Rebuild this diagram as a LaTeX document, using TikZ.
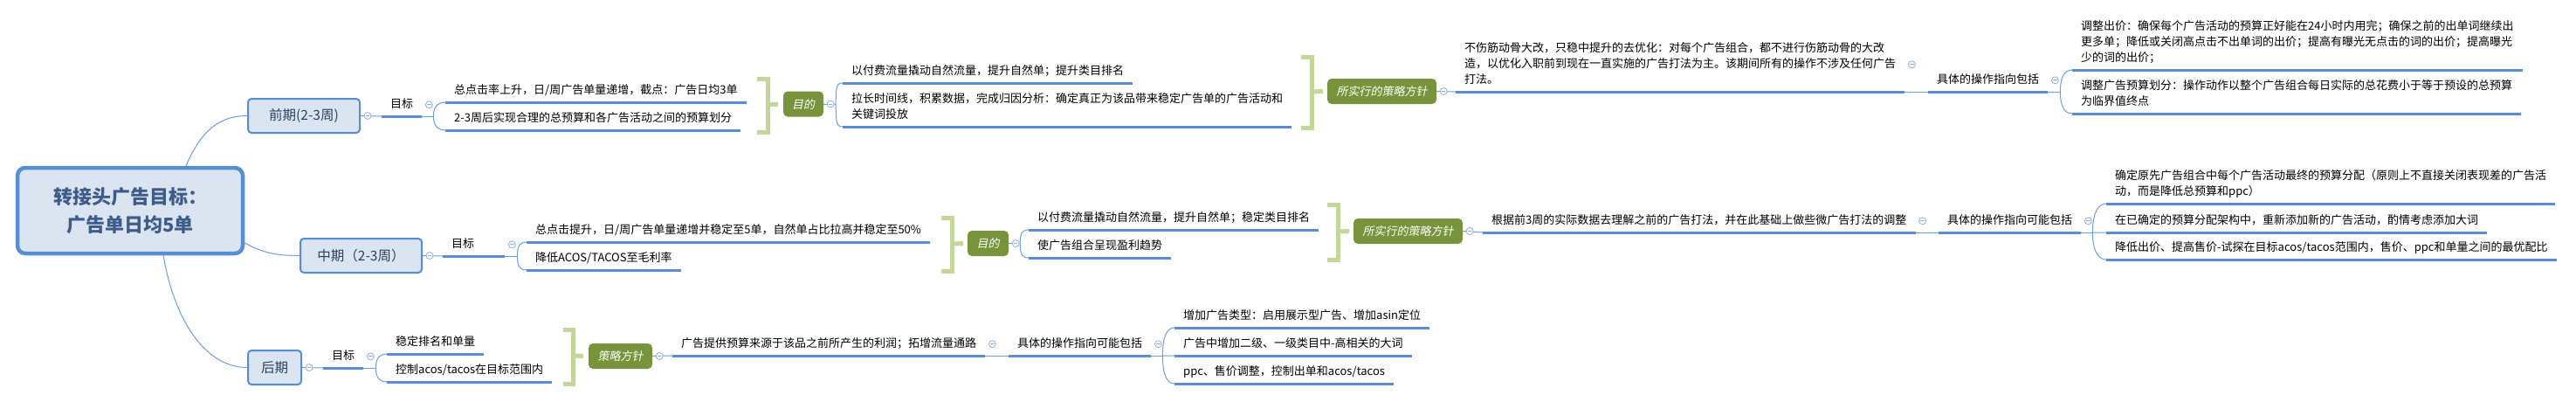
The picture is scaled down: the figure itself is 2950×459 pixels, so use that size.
\documentclass[tikz,border=0pt]{standalone}
\usepackage{fontspec}
\setmainfont{Noto Sans CJK SC}
\newfontfamily\tagfont[FakeSlant=0.2]{Noto Sans CJK SC}
\usetikzlibrary{calc}
\definecolor{rootfill}{HTML}{DBE5F1}
\definecolor{rootline}{HTML}{558ED5}
\definecolor{roottext}{HTML}{3D5C8A}
\definecolor{stagetext}{HTML}{2A3F5F}
\definecolor{linkblue}{HTML}{6D9DDA}
\definecolor{ulblue}{HTML}{5A8DD6}
\definecolor{foldblue}{HTML}{8FAEDF}
\definecolor{olive}{HTML}{77933C}
\definecolor{bracegreen}{HTML}{C4D79B}
\tikzset{
  link/.style={linkblue, line width=1pt},
  uline/.style={ulblue, line width=3pt},
  brace/.style={bracegreen, line width=5pt, line join=miter},
  root/.style={draw=rootline, fill=rootfill, line width=4.5pt, rounded corners=9pt,
    minimum width=258pt, minimum height=98pt, align=center, text=roottext,
    font=\fontsize{22}{32}\selectfont\bfseries},
  stage/.style={draw=rootline, fill=rootfill, line width=2pt, rounded corners=4pt,
    minimum height=39pt, inner sep=0pt, text=stagetext, font=\fontsize{15.5}{18}\selectfont},
  tag/.style={fill=olive, rounded corners=5pt, minimum height=29pt, inner sep=0pt,
    text=white, font=\tagfont\fontsize{13}{16}\selectfont},
  topic/.style={anchor=south west, inner xsep=10pt, inner ysep=6pt, text depth=3pt,
    align=left, font=\fontsize{13}{18}\selectfont,
    append after command={(\tikzlastnode.south west) edge[uline] (\tikzlastnode.south east)}},
  fold/.style={circle, draw=foldblue, fill=white, line width=0.8pt, minimum size=8pt, inner sep=0pt,
    path picture={\draw[foldblue, line width=0.8pt] ([xshift=-2.2pt]path picture bounding box.center) -- ([xshift=2.2pt]path picture bounding box.center);}},
  forkto/.style={to path={.. controls ($(\tikztostart)!0.8!(\tikztostart|-\tikztotarget)$) and ($(\tikztotarget)+(-7,0)$) .. (\tikztotarget)}}
}
\begin{document}
\begin{tikzpicture}[x=1pt, y=-1pt]
\useasboundingbox (0,0) rectangle (2950,459);
% centre and the three stages
\node[root] (root) at (149,241) {转接头广告目标：\\广告单日均5单};
\node[stage, minimum width=128pt] (qian) at (348,132.5) {前期(2-3周)};
\node[stage, minimum width=139pt] (zhong) at (413.5,292.5) {中期（2-3周）};
\node[stage, minimum width=61pt] (hou) at (314.5,420.5) {后期};
\draw[link] ([xshift=64pt]root.north) .. controls +(14,-32) and +(-38,0) .. (qian.west);
\draw[link] ([yshift=-37pt]root.east) .. controls +(22,12) and +(-25,0) .. (zhong.west);
\draw[link] ([xshift=38pt]root.south) .. controls +(14,80) and +(-45,0) .. (hou.west);

% early stage
\node[topic] (goalA) at (437,133) {目标};
\node[topic] (a1) at (510,117) {总点击率上升，日/周广告单量递增，截点：广告日均3单};
\node[topic] (a2) at (510,149) {2-3周后实现合理的总预算和各广告活动之间的预算划分};
\node[tag, minimum width=46pt] (purpA) at (920,119) {目的};
\node[topic] (b1) at (965,95) {以付费流量撬动自然流量，提升自然单；提升类目排名};
\node[topic] (b2) at (965,145) {拉长时间线，积累数据，完成归因分析：确定真正为该品带来稳定广告单的广告活动和\\关键词投放};
\node[tag, minimum width=125pt] (stratA) at (1582.5,104.5) {所实行的策略方针};
\node[topic] (c1) at (1667,105) {不伤筋动骨大改，只稳中提升的去优化：对每个广告组合，都不进行伤筋动骨的大改\\造，以优化入职前到现在一直实施的广告打法为主。该期间所有的操作不涉及任何广告\\打法。};
\node[topic] (opA) at (2208,105) {具体的操作指向包括};
\node[topic] (d1) at (2373,80) {调整出价：确保每个广告活动的预算正好能在24小时内用完；确保之前的出单词继续出\\更多单；降低或关闭高点击不出单词的出价；提高有曝光无点击的词的出价；提高曝光\\少的词的出价；};
\node[topic] (d2) at (2373,130) {调整广告预算划分：操作动作以整个广告组合每日实际的总花费小于等于预设的总预算\\为临界值终点};
\coordinate (fA) at ($(goalA.south east)+(13,0)$);
\coordinate (fB) at ($(purpA.east)+(14,0)$);
\coordinate (fC) at ($(opA.south east)+(14,0)$);
\draw[link] (qian.east) -- (goalA.south west);
\draw[link] (goalA.south east) -- (fA);
\draw[link, forkto] (fA) to (a1.south west) (fA) to (a2.south west);
\draw[brace] (867,90) -- (879.5,90) -- (879.5,151) -- (867,151);
\draw[brace] (879.5,119) -- ([xshift=-6pt]purpA.west);
\draw[link] (purpA.east) -- (fB);
\draw[link, forkto] (fB) to (b1.south west) (fB) to (b2.south west);
\draw[brace] (1490,65.5) -- (1502,65.5) -- (1502,146) -- (1490,146);
\draw[brace] (1502,105) -- ([xshift=-5pt]stratA.west);
\draw[link] (stratA.east) -- (c1.south west);
\draw[link] (c1.south east) -- (opA.south west);
\draw[link] (opA.south east) -- (fC);
\draw[link, forkto] (fC) to (d1.south west) (fC) to (d2.south west);

% middle stage
\node[topic, text width=51pt] (goalB) at (507,293) {目标};
\node[topic] (e1) at (603,277) {总点击提升，日/周广告单量递增并稳定至5单，自然单占比拉高并稳定至50\%};
\node[topic] (e2) at (603,309) {降低ACOS/TACOS至毛利率};
\node[tag, minimum width=47pt] (purpB) at (1131.5,278.5) {目的};
\node[topic] (g1) at (1178,263) {以付费流量撬动自然流量，提升自然单；稳定类目排名};
\node[topic] (g2) at (1178,295) {使广告组合呈现盈利趋势};
\node[tag, minimum width=125pt] (stratB) at (1612.5,264.5) {所实行的策略方针};
\node[topic] (h1) at (1698,266) {根据前3周的实际数据去理解之前的广告打法，并在此基础上做些微广告打法的调整};
\node[topic] (opB) at (2220,266) {具体的操作指向可能包括};
\node[topic] (k1) at (2412,233) {确定原先广告组合中每个广告活动最终的预算分配（原则上不直接关闭表现差的广告活\\动，而是降低总预算和ppc）};
\node[topic] (k2) at (2412,266) {在已确定的预算分配架构中，重新添加新的广告活动，酌情考虑添加大词};
\node[topic] (k3) at (2412,297) {降低出价、提高售价-试探在目标acos/tacos范围内，售价、ppc和单量之间的最优配比};
\coordinate (fD) at ($(goalB.south east)+(14,0)$);
\coordinate (fE) at ($(purpB.east)+(13,0)$);
\coordinate (fF) at ($(opB.south east)+(13,0)$);
\draw[link] (zhong.east) -- (goalB.south west);
\draw[link] (goalB.south east) -- (fD);
\draw[link, forkto] (fD) to (e1.south west) (fD) to (e2.south west);
\draw[brace] (1078,249.5) -- (1090,249.5) -- (1090,310.5) -- (1078,310.5);
\draw[brace] (1090,279) -- ([xshift=-5pt]purpB.west);
\draw[link] (purpB.east) -- (fE);
\draw[link, forkto] (fE) to (g1.south west) (fE) to (g2.south west);
\draw[brace] (1520,234.5) -- (1532,234.5) -- (1532,297) -- (1520,297);
\draw[brace] (1532,265) -- ([xshift=-5pt]stratB.west);
\draw[link] (stratB.east) -- (h1.south west);
\draw[link] (h1.south east) -- (opB.south west);
\draw[link] (opB.south east) -- (fF);
\draw[link, forkto] (fF) to (k1.south west) (fF) to (k2.south west) (fF) to (k3.south west);

% late stage
\node[topic] (goalC) at (370,421) {目标};
\node[topic] (m1) at (443,405) {稳定排名和单量};
\node[topic] (m2) at (443,437) {控制acos/tacos在目标范围内};
\node[tag, minimum width=73pt] (stratC) at (710.5,407.5) {策略方针};
\node[topic] (n1) at (770,407) {广告提供预算来源于该品之前所产生的利润；拓增流量通路};
\node[topic] (opC) at (1155,407) {具体的操作指向可能包括};
\node[topic] (p1) at (1345,375) {增加广告类型：启用展示型广告、增加asin定位};
\node[topic] (p2) at (1345,407) {广告中增加二级、一级类目中-高相关的大词};
\node[topic] (p3) at (1345,439) {ppc、售价调整，控制出单和acos/tacos};
\coordinate (fG) at ($(goalC.south east)+(14,0)$);
\coordinate (fH) at ($(opC.south east)+(13,0)$);
\draw[link] (hou.east) -- (goalC.south west);
\draw[link] (goalC.south east) -- (fG);
\draw[link, forkto] (fG) to (m1.south west) (fG) to (m2.south west);
\draw[brace] (645,377.5) -- (656,377.5) -- (656,439.5) -- (645,439.5);
\draw[brace] (656,407) -- ([xshift=-6pt]stratC.west);
\draw[link] (stratC.east) -- (n1.south west);
\draw[link] (n1.south east) -- (opC.south west);
\draw[link] (opC.south east) -- (fH);
\draw[link, forkto] (fH) to (p1.south west) (fH) to (p2.south west) (fH) to (p3.south west);

% fold markers
\foreach \n in {qian,zhong,hou,goalA,goalB,goalC,purpA,purpB,stratA,stratB,stratC,c1,h1,n1,opA,opB,opC}
  \node[fold] (fold-\n) at ($(\n.east)+(8,0)$) {};
\end{tikzpicture}
\end{document}
